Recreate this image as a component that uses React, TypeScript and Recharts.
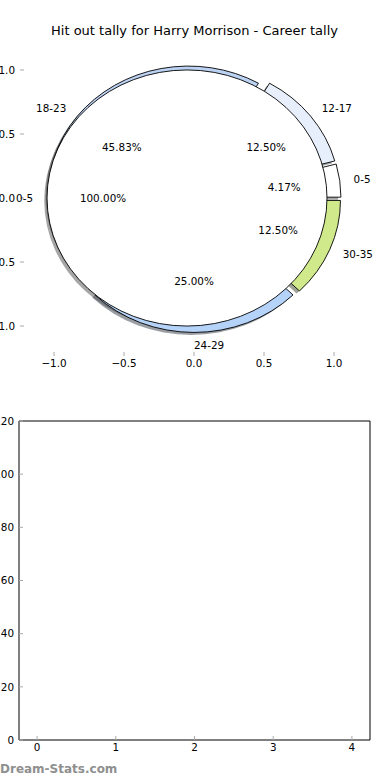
import React from "react";
import { PieChart, Pie, Cell, ScatterChart, Scatter, XAxis, YAxis, Tooltip } from "recharts";

const TITLE = "Hit out tally for Harry Morrison - Career tally";

// outer (exploded) pie: hit outs per game bucket
const categories = ["0-5", "12-17", "18-23", "24-29", "30-35"];
const tally = [1, 3, 11, 6, 3];
const sliceColors = ["#ffffff", "#e8effc", "#bcd2f3", "#b5d3f9", "#cfe98b"];

// inner pie: career total
const careerCategories = ["0-5"];
const careerTally = [24];
const careerColors = ["#ffffff"];

const pieTicks = [-1, -0.5, 0, 0.5, 1];
const pieXDomain = [-1.243, 1.25];
const pieYDomain = [-1.234, 1.234];

const emptyXTicks = [0, 1, 2, 3, 4];
const emptyYTicks = [0, 20, 40, 60, 80, 100, 120];
const emptyXDomain = [-0.23, 4.23];
const emptyYDomain = [0, 120];

const FONT = "'DejaVu Sans', Verdana, sans-serif";
const TICK_GRAY = "#aaaaaa";
const EXPLODE = 0.05;
const SHADOW = 0.02;

// top panel geometry (axes take 1px each, so the plot box is 20..369 x 40..356)
const W = 390;
const TOP_H = 380;
const topMargin = { top: 39, right: 20, bottom: 23, left: 19 };
const plotLeft = topMargin.left + 1;
const plotTop = topMargin.top + 1;
const plotW = W - topMargin.left - topMargin.right - 2;
const plotH = TOP_H - topMargin.top - topMargin.bottom - 2;
const pxX = plotW / (pieXDomain[1] - pieXDomain[0]);
const pxY = plotH / (pieYDomain[1] - pieYDomain[0]);
const CX = plotLeft + (0 - pieXDomain[0]) * pxX;
const CY = plotTop + pieYDomain[1] * pxY;
const RATIO = pxY / pxX;

const outerData = categories.map((name, i) => ({ name, value: tally[i] }));
const innerData = careerCategories.map((name, i) => ({ name, value: careerTally[i] }));

const RAD = Math.PI / 180;

function wedgePath(cx: number, cy: number, rx: number, ry: number, a0: number, a1: number) {
  if (Math.abs(a1 - a0) >= 359.99) {
    return `M ${cx + rx} ${cy} A ${rx} ${ry} 0 1 0 ${cx - rx} ${cy} A ${rx} ${ry} 0 1 0 ${cx + rx} ${cy} Z`;
  }
  const x0 = cx + rx * Math.cos(a0 * RAD);
  const y0 = cy - ry * Math.sin(a0 * RAD);
  const x1 = cx + rx * Math.cos(a1 * RAD);
  const y1 = cy - ry * Math.sin(a1 * RAD);
  const large = Math.abs(a1 - a0) > 180 ? 1 : 0;
  const sweep = a1 > a0 ? 0 : 1;
  return `M ${cx} ${cy} L ${x0} ${y0} A ${rx} ${ry} 0 ${large} ${sweep} ${x1} ${y1} Z`;
}

function shadowColor(hex: string) {
  const n = parseInt(hex.slice(1), 16);
  const r = Math.round(((n >> 16) & 255) * 0.3);
  const g = Math.round(((n >> 8) & 255) * 0.3);
  const b = Math.round((n & 255) * 0.3);
  return `rgb(${r},${g},${b})`;
}

const makeWedge = (shadow: boolean) => (props: any) => {
  const { cx, cy, outerRadius, startAngle, endAngle, fill } = props;
  const mid = props.midAngle ?? (startAngle + endAngle) / 2;
  const rx = outerRadius;
  const ry = outerRadius * RATIO;
  let ox = cx + EXPLODE * rx * Math.cos(mid * RAD);
  let oy = cy - EXPLODE * ry * Math.sin(mid * RAD);
  if (shadow) {
    ox -= SHADOW * rx;
    oy += SHADOW * ry;
    return <path d={wedgePath(ox, oy, rx, ry, startAngle, endAngle)} fill={shadowColor(fill)} fillOpacity={0.5} stroke="none" />;
  }
  return <path d={wedgePath(ox, oy, rx, ry, startAngle, endAngle)} fill={fill} stroke="#000" strokeWidth={0.9} />;
};

const shadowShape = makeWedge(true);
const wedgeShape = makeWedge(false);

const renderLabels = (props: any) => {
  const { cx, cy, midAngle, outerRadius, percent, name } = props;
  const rx = outerRadius;
  const ry = outerRadius * RATIO;
  const c = Math.cos(midAngle * RAD);
  const s = Math.sin(midAngle * RAD);
  const ex = cx + EXPLODE * rx * c;
  const ey = cy - EXPLODE * ry * s;
  return (
    <g>
      <text x={ex + 1.1 * rx * c} y={ey - 1.1 * ry * s} textAnchor={c > -1e-9 ? "start" : "end"} dominantBaseline="central" fontSize={10.4} fill="#000">
        {name}
      </text>
      <text x={ex + 0.6 * rx * c} y={ey - 0.6 * ry * s} textAnchor="middle" dominantBaseline="central" fontSize={10.4} fill="#000">
        {`${(percent * 100).toFixed(2)}%`}
      </text>
    </g>
  );
};

const fmtPie = (v: number) => (v < 0 ? "\u2212" : "") + Math.abs(v).toFixed(1);
const tickStyle = { fill: "#000", fontSize: 10.4 };

export default function App() {
  const pieProps = {
    dataKey: "value",
    nameKey: "name",
    cx: CX,
    cy: CY,
    innerRadius: 0,
    outerRadius: pxX,
    startAngle: 0,
    endAngle: 360,
    isAnimationActive: false,
  };
  return (
    <div style={{ position: "absolute", left: 0, top: 0, width: W, height: 780, background: "#fff", fontFamily: FONT, overflow: "hidden" }}>
      <div style={{ position: "absolute", left: 0, top: 23, width: 389, textAlign: "center", fontSize: 13, color: "#000" }}>{TITLE}</div>

      {/* pie panel axes (frame off, ticks only) */}
      <div style={{ position: "absolute", left: 0, top: 0 }}>
        <ScatterChart width={W} height={TOP_H} margin={topMargin}>
          <XAxis xAxisId="b" type="number" dataKey="x" domain={pieXDomain} ticks={pieTicks} allowDataOverflow interval={0} height={1} axisLine={false} tickSize={-4} tickMargin={8} tickLine={{ stroke: TICK_GRAY }} tick={tickStyle} tickFormatter={fmtPie} />
          <XAxis xAxisId="t" orientation="top" type="number" dataKey="x" domain={pieXDomain} ticks={pieTicks} allowDataOverflow interval={0} height={1} axisLine={false} tickSize={-4} tickLine={{ stroke: TICK_GRAY }} tick={false} />
          <YAxis yAxisId="l" type="number" dataKey="y" domain={pieYDomain} ticks={pieTicks} allowDataOverflow interval={0} width={1} axisLine={false} tickSize={-4} tickMargin={9} tickLine={{ stroke: TICK_GRAY }} tick={tickStyle} tickFormatter={fmtPie} />
          <YAxis yAxisId="r" orientation="right" type="number" dataKey="y" domain={pieYDomain} ticks={pieTicks} allowDataOverflow interval={0} width={1} axisLine={false} tickSize={-4} tickLine={{ stroke: TICK_GRAY }} tick={false} />
          <Scatter xAxisId="b" yAxisId="l" data={[]} isAnimationActive={false} />
          <Scatter xAxisId="t" yAxisId="r" data={[]} isAnimationActive={false} />
        </ScatterChart>
      </div>

      {/* the pies */}
      <div style={{ position: "absolute", left: 0, top: 0 }}>
        <PieChart width={W} height={TOP_H} margin={{ top: 0, right: 0, bottom: 0, left: 0 }}>
          <Pie {...pieProps} data={outerData} shape={shadowShape} activeShape={shadowShape} inactiveShape={shadowShape} stroke="none">
            {outerData.map((d, i) => <Cell key={d.name} fill={sliceColors[i]} />)}
          </Pie>
          <Pie {...pieProps} data={innerData} shape={shadowShape} activeShape={shadowShape} inactiveShape={shadowShape} stroke="none">
            {innerData.map((d, i) => <Cell key={d.name} fill={careerColors[i]} />)}
          </Pie>
          <Pie {...pieProps} data={outerData} shape={wedgeShape} activeShape={wedgeShape} inactiveShape={wedgeShape} stroke="#000">
            {outerData.map((d, i) => <Cell key={d.name} fill={sliceColors[i]} />)}
          </Pie>
          <Pie {...pieProps} data={innerData} shape={wedgeShape} activeShape={wedgeShape} inactiveShape={wedgeShape} stroke="#000">
            {innerData.map((d, i) => <Cell key={d.name} fill={careerColors[i]} />)}
          </Pie>
          <Pie {...pieProps} data={outerData} fill="none" stroke="none" label={renderLabels} labelLine={false} />
          <Pie {...pieProps} data={innerData} fill="none" stroke="none" label={renderLabels} labelLine={false} />
          <Tooltip defaultIndex={0} content={() => null} cursor={false} isAnimationActive={false} />
        </PieChart>
      </div>

      {/* empty second panel: plot box 19..370 x 421..740 */}
      <div style={{ position: "absolute", left: 0, top: 380 }}>
        <ScatterChart width={W} height={400} margin={{ top: 40, right: 19, bottom: 39, left: 18 }}>
          <XAxis xAxisId="b" type="number" dataKey="x" domain={emptyXDomain} ticks={emptyXTicks} allowDataOverflow interval={0} height={1} axisLine={{ stroke: "#000" }} tickSize={-4} tickMargin={8} tickLine={{ stroke: TICK_GRAY }} tick={tickStyle} />
          <XAxis xAxisId="t" orientation="top" type="number" dataKey="x" domain={emptyXDomain} ticks={emptyXTicks} allowDataOverflow interval={0} height={1} axisLine={{ stroke: "#000" }} tickSize={-4} tickLine={{ stroke: TICK_GRAY }} tick={false} />
          <YAxis yAxisId="l" type="number" dataKey="y" domain={emptyYDomain} ticks={emptyYTicks} allowDataOverflow interval={0} width={1} axisLine={{ stroke: "#000" }} tickSize={-4} tickMargin={9} tickLine={{ stroke: TICK_GRAY }} tick={tickStyle} />
          <YAxis yAxisId="r" orientation="right" type="number" dataKey="y" domain={emptyYDomain} ticks={emptyYTicks} allowDataOverflow interval={0} width={1} axisLine={{ stroke: "#000" }} tickSize={-4} tickLine={{ stroke: TICK_GRAY }} tick={false} />
          <Scatter xAxisId="b" yAxisId="l" data={[]} isAnimationActive={false} />
          <Scatter xAxisId="t" yAxisId="r" data={[]} isAnimationActive={false} />
        </ScatterChart>
      </div>

      <div style={{ position: "absolute", left: 0, top: 762, fontSize: 12, fontWeight: "bold", color: "#8f8f8f" }}>Dream-Stats.com</div>
    </div>
  );
}
